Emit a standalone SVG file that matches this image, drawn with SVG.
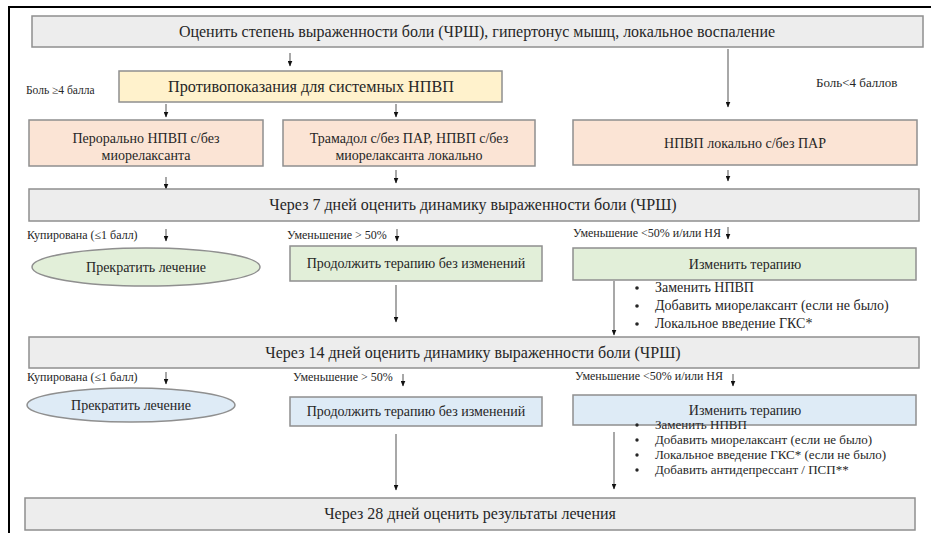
<svg xmlns="http://www.w3.org/2000/svg" width="931" height="533" viewBox="0 0 931 533">
<style>
text{font-family:"Liberation Serif","Times New Roman",serif;fill:#262626}
.box{stroke:#8f8f8f;stroke-width:1.5}
.gray{fill:#ededed}
.yel{fill:#fff2cc}
.sal{fill:#fbe4d5}
.grn{fill:#e2efd9}
.blu{fill:#deebf6}
.big{font-size:16px;text-anchor:middle}
.mid{font-size:14px;text-anchor:middle}
.lbl{font-size:12px}
.bul{font-size:14px}
.bul2{font-size:13px}
.dot{fill:#262626}
.ar{stroke:#6e6e6e;stroke-width:1.2;fill:none;marker-end:url(#ah)}
</style>
<defs>
<marker id="ah" viewBox="0 0 6 5" refX="5.5" refY="2.5" markerWidth="6" markerHeight="5" markerUnits="userSpaceOnUse" orient="auto">
<path d="M0,0 L6,2.5 L0,5 Z" fill="#111"/>
</marker>
</defs>
<rect width="931" height="533" fill="#fff"/>
<path d="M9,533 V7 H931" stroke="#000" stroke-width="2" fill="none"/>

<g id="connectors">
<line class="ar" x1="290" y1="53" x2="290" y2="66"/>
<line class="ar" x1="728" y1="49" x2="728" y2="107"/>
<line class="ar" x1="166" y1="104" x2="166" y2="117"/>
<line class="ar" x1="396" y1="104" x2="396" y2="117"/>
<line class="ar" x1="166" y1="177" x2="166" y2="189"/>
<line class="ar" x1="396" y1="170" x2="396" y2="183"/>
<line class="ar" x1="728" y1="170" x2="728" y2="181"/>
<line class="ar" x1="166" y1="229" x2="166" y2="241"/>
<line class="ar" x1="397" y1="229" x2="397" y2="241"/>
<line class="ar" x1="728" y1="227" x2="728" y2="239"/>
<line class="ar" x1="396" y1="285" x2="396" y2="322"/>
<line class="ar" x1="614" y1="281" x2="614" y2="335"/>
<line class="ar" x1="166" y1="372" x2="166" y2="384"/>
<line class="ar" x1="403" y1="374" x2="403" y2="386"/>
<line class="ar" x1="733" y1="374" x2="733" y2="386"/>
<line class="ar" x1="396" y1="434" x2="396" y2="490"/>
<line class="ar" x1="614" y1="432" x2="614" y2="489"/>
</g>

<g id="n-assess">
<rect class="box gray" x="32" y="16" width="891" height="31"/>
<text class="big" x="477" y="37">Оценить степень выраженности боли (ЧРШ), гипертонус мышц, локальное воспаление</text>
</g>
<g id="lbl-ge4"><text class="lbl" x="26" y="94" style="font-size:11.5px">Боль ≥4 балла</text></g>
<g id="lbl-lt4"><text class="lbl" x="816" y="87" style="font-size:13px">Боль&lt;4 баллов</text></g>
<g id="n-contra">
<rect class="box yel" x="119" y="71" width="383" height="31"/>
<text x="311" y="92" style="font-size:16.2px;text-anchor:middle">Противопоказания для системных НПВП</text>
</g>
<g id="n-oral">
<rect class="box sal" x="29" y="120" width="234" height="46"/>
<text class="mid" x="146" y="143">Перорально НПВП с/без</text>
<text class="mid" x="146" y="160">миорелаксанта</text>
</g>
<g id="n-tramadol">
<rect class="box sal" x="283" y="120" width="252" height="46"/>
<text class="mid" x="409" y="143">Трамадол с/без ПАР, НПВП с/без</text>
<text class="mid" x="409" y="160">миорелаксанта локально</text>
</g>
<g id="n-local">
<rect class="box sal" x="573" y="120" width="344" height="45"/>
<text class="mid" x="745" y="148">НПВП локально с/без ПАР</text>
</g>

<g id="n-day7">
<rect class="box gray" x="29" y="189" width="890" height="32"/>
<text class="big" x="473" y="210">Через 7 дней оценить динамику выраженности боли (ЧРШ)</text>
</g>
<g id="lbl-r1"><text class="lbl" x="27" y="239">Купирована (≤1 балл)</text>
<text class="lbl" x="287" y="239">Уменьшение &gt; 50%</text>
<text class="lbl" x="573" y="237">Уменьшение &lt;50% и/или НЯ</text></g>
<g id="n-stop1">
<ellipse class="box grn" cx="146" cy="267" rx="114" ry="19"/>
<text class="mid" x="146" y="272">Прекратить лечение</text>
</g>
<g id="n-cont1">
<rect class="box grn" x="290" y="246" width="252" height="35"/>
<text class="mid" x="416" y="268">Продолжить терапию без изменений</text>
</g>
<g id="n-change1">
<rect class="box grn" x="573" y="248" width="343" height="32"/>
<text class="mid" x="745" y="269">Изменить терапию</text>
</g>
<g id="list1">
<circle class="dot" cx="637" cy="288" r="1.8"/><text class="bul" x="655" y="292">Заменить НПВП</text>
<circle class="dot" cx="637" cy="306" r="1.8"/><text class="bul" x="655" y="310">Добавить миорелаксант (если не было)</text>
<circle class="dot" cx="637" cy="324" r="1.8"/><text class="bul" x="655" y="328">Локальное введение ГКС*</text>
</g>

<g id="n-day14">
<rect class="box gray" x="29" y="337" width="890" height="31"/>
<text class="big" x="473" y="358">Через 14 дней оценить динамику выраженности боли (ЧРШ)</text>
</g>
<g id="lbl-r2"><text class="lbl" x="27" y="381">Купирована (≤1 балл)</text>
<text class="lbl" x="293" y="381">Уменьшение &gt; 50%</text>
<text class="lbl" x="575" y="380">Уменьшение &lt;50% и/или НЯ</text></g>
<g id="n-stop2">
<ellipse class="box blu" cx="131" cy="405" rx="104" ry="17"/>
<text class="mid" x="131" y="410">Прекратить лечение</text>
</g>
<g id="n-cont2">
<rect class="box blu" x="290" y="397" width="252" height="29"/>
<text class="mid" x="416" y="416">Продолжить терапию без изменений</text>
</g>
<g id="n-change2">
<rect class="box blu" x="573" y="395" width="343" height="30"/>
<text class="mid" x="745" y="415">Изменить терапию</text>
</g>
<g id="list2">
<circle class="dot" cx="637" cy="425" r="1.7"/><text class="bul2" x="655" y="429">Заменить НПВП</text>
<circle class="dot" cx="637" cy="440" r="1.7"/><text class="bul2" x="655" y="444">Добавить миорелаксант (если не было)</text>
<circle class="dot" cx="637" cy="455" r="1.7"/><text class="bul2" x="655" y="459">Локальное введение ГКС* (если не было)</text>
<circle class="dot" cx="637" cy="470" r="1.7"/><text class="bul2" x="655" y="474">Добавить антидепрессант / ПСП**</text>
</g>

<g id="n-day28">
<rect class="box gray" x="25" y="498" width="890" height="32"/>
<text class="big" x="470" y="519">Через 28 дней оценить результаты лечения</text>
</g>
</svg>
